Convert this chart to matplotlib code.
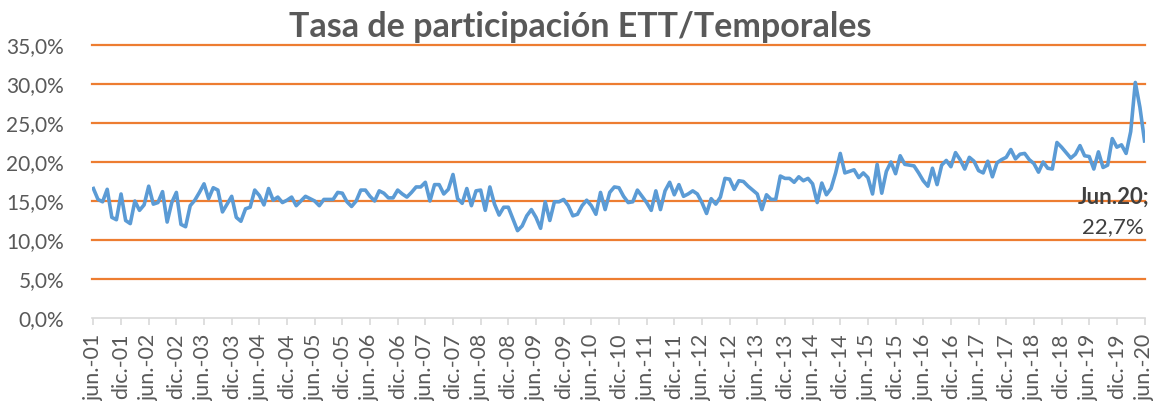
import matplotlib.pyplot as plt
import numpy as np
from matplotlib.ticker import FuncFormatter, MultipleLocator

# Tasa mensual (%), jun.-01 .. jun.-20
tasa_2001_2003 = [16.6, 15.2, 14.9, 16.5, 12.9, 12.6, 15.9, 12.5, 12.1, 15.0, 13.8, 14.5,
                  16.9, 14.6, 14.8, 16.2, 12.3, 14.8, 16.1, 12.0, 11.7, 14.4, 15.1, 16.1,
                  17.2, 15.3, 16.7, 16.4, 13.6, 14.6, 15.6, 12.9, 12.4, 14.0, 14.2, 16.4]
tasa_2004_2006 = [15.7, 14.5, 16.6, 15.1, 15.5, 14.8, 15.1, 15.5, 14.4, 15.0, 15.6, 15.3,
                  15.0, 14.4, 15.2, 15.2, 15.2, 16.1, 16.0, 14.9, 14.3, 15.0, 16.4, 16.4,
                  15.6, 15.0, 16.3, 16.0, 15.4, 15.4, 16.4, 15.9, 15.5, 16.1, 16.8, 16.8]
tasa_2007_2009 = [17.4, 15.0, 17.1, 17.1, 15.9, 16.5, 18.4, 15.3, 14.7, 16.6, 14.4, 16.3,
                  16.4, 13.8, 16.8, 14.6, 13.2, 14.2, 14.2, 12.7, 11.2, 11.8, 13.1, 13.9,
                  12.9, 11.5, 14.9, 12.5, 14.9, 14.9, 15.2, 14.4, 13.1, 13.3, 14.4, 15.1]
tasa_2010_2012 = [14.4, 13.3, 16.1, 13.9, 16.1, 16.8, 16.7, 15.6, 14.8, 14.9, 16.4, 15.6,
                  14.8, 13.8, 16.3, 13.9, 16.3, 17.4, 15.8, 17.1, 15.6, 15.9, 16.3, 15.9,
                  14.8, 13.4, 15.3, 14.6, 15.5, 17.9, 17.8, 16.5, 17.6, 17.5, 16.9, 16.4]
tasa_2013_2015 = [15.9, 13.9, 15.8, 15.2, 15.2, 18.2, 17.9, 17.9, 17.4, 18.1, 17.6, 17.9,
                  17.2, 14.8, 17.3, 15.8, 16.6, 18.6, 21.1, 18.6, 18.8, 19.0, 18.0, 18.6,
                  18.0, 15.9, 19.7, 16.0, 18.8, 20.0, 18.5, 20.8, 19.7, 19.6, 19.5, 18.6]
tasa_2016_2018 = [17.6, 16.9, 19.2, 17.1, 19.6, 20.2, 19.4, 21.2, 20.3, 19.1, 20.6, 20.1,
                  18.9, 18.6, 20.1, 18.1, 19.9, 20.3, 20.6, 21.6, 20.4, 21.0, 21.1, 20.3,
                  19.8, 18.7, 20.0, 19.2, 19.1, 22.5, 21.9, 21.2, 20.5, 21.0, 22.1, 20.8]
tasa_2019_2020 = [20.7, 19.1, 21.3, 19.3, 19.6, 23.0, 21.9, 22.2, 21.1, 23.9, 30.2, 27.0,
                  22.7]

tick_labels = ["jun.-01", "dic.-01", "jun.-02", "dic.-02", "jun.-03", "dic.-03",
               "jun.-04", "dic.-04", "jun.-05", "dic.-05", "jun.-06", "dic.-06",
               "jun.-07", "dic.-07", "jun.-08", "dic.-08", "jun.-09", "dic.-09",
               "jun.-10", "dic.-10", "jun.-11", "dic.-11", "jun.-12", "dic.-12",
               "jun.-13", "dic.-13", "jun.-14", "dic.-14", "jun.-15", "dic.-15",
               "jun.-16", "dic.-16", "jun.-17", "dic.-17", "jun.-18", "dic.-18",
               "jun.-19", "dic.-19", "jun.-20"]

ultimo_label = "Jun.20;"

tasa = np.array(tasa_2001_2003 + tasa_2004_2006 + tasa_2007_2009 + tasa_2010_2012
                + tasa_2013_2015 + tasa_2016_2018 + tasa_2019_2020)
meses = np.arange(len(tasa))

plt.rcParams["font.family"] = ["Lato", "DejaVu Sans"]
grey = "#595959"

fig = plt.figure(figsize=(11.61, 4.01), dpi=100)
ax = fig.add_axes([92 / 1161, 1 - 318 / 401, (1145 - 92) / 1161, (318 - 45) / 401])

ax.plot(meses, tasa, color="#5B9BD5", lw=2.6, solid_joinstyle="round", zorder=3)

ax.set_xlim(-0.3, len(tasa) - 1 + 0.1)
ax.set_ylim(0, 35)
ax.yaxis.set_major_locator(MultipleLocator(5))
ax.yaxis.set_major_formatter(FuncFormatter(lambda v, p: f"{v:.1f}%".replace(".", ",")))
ax.grid(axis="y", color="#ED7D31", lw=1.6, zorder=1)
ax.set_axisbelow(True)
for gl, val in zip(ax.get_ygridlines(), ax.get_yticks()):
    gl.set_clip_on(False)
    if val == 0:
        gl.set_visible(False)

ax.set_xticks(meses[::6])
ax.set_xticklabels(tick_labels, rotation=90, va="top", ha="center")

for side in ["left", "right", "top"]:
    ax.spines[side].set_visible(False)
ax.spines["bottom"].set_color("#D9D9D9")
ax.spines["bottom"].set_linewidth(1.2)
ax.spines["bottom"].set_zorder(2)

ax.tick_params(axis="y", length=0, pad=20, labelsize=15, labelcolor=grey)
ax.tick_params(axis="x", length=5, width=1.2, color="#D9D9D9", pad=6,
               labelsize=15.5, labelcolor=grey)

# etiqueta del último dato
ax.text(len(tasa) - 7.8, 15.5, ultimo_label, ha="center", va="center",
        fontsize=16, fontweight="bold", color="#404040")
ax.text(len(tasa) - 7.8, 11.7, f"{tasa[-1]:.1f}%".replace(".", ","), ha="center",
        va="center", fontsize=16, color="#404040")

fig.text(0.5, 0.933, "Tasa de participación ETT/Temporales", ha="center", va="center",
         fontsize=24.5, fontweight="bold", color=grey)

fig.savefig("out.png", dpi=100)
